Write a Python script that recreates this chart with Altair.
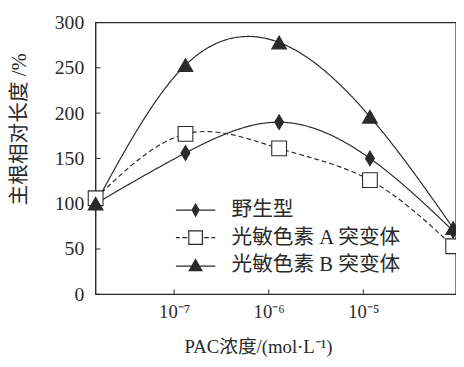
import altair as alt
import pandas as pd

# ---- data ----
series_names = ["野生型", "光敏色素 A 突变体", "光敏色素 B 突变体"]
# horizontal position of each concentration, in log10(mol/L) units (first = control)
x_pos = [-7.83, -6.88, -5.89, -4.93, -4.05]
wild = [100, 156, 190, 150, 70]
phyA = [106, 177, 161, 126, 53]
phyB = [100, 253, 278, 196, 73]

x_ticks = [-7, -6, -5]
x_tick_labels = ["10⁻⁷", "10⁻⁶", "10⁻⁵"]
y_ticks = [0, 50, 100, 150, 200, 250, 300]

x_title = "PAC浓度/(mol·L⁻¹)"
y_title = "主根相对长度 /%"

FONT = "'Liberation Serif', 'Noto Sans CJK SC', serif"
W, H = 366, 276
INK = "#2a2a2a"

rows = []
for name, vals in zip(series_names, [wild, phyA, phyB]):
    for i, (xv, yv) in enumerate(zip(x_pos, vals)):
        rows.append({"series": name, "x": xv, "y": yv, "order": i})
df = pd.DataFrame(rows)

label_expr = " : ".join(
    f"datum.value == {v} ? '{lab}'" for v, lab in zip(x_ticks, x_tick_labels)
) + " : ''"

x_enc = alt.X(
    "x:Q",
    scale=alt.Scale(domain=[-7.83, -4.02], nice=False, zero=False),
    axis=alt.Axis(
        values=x_ticks, labelExpr=label_expr, tickSize=0, domain=False, grid=False,
        labelPadding=9, labelFontSize=19, labelFont=FONT, labelColor=INK,
        title=x_title, titleFont=FONT, titleFontSize=19, titleFontWeight="normal",
        titleColor=INK, titlePadding=16, titleX=165, titleAlign="center",
    ),
)
y_enc = alt.Y(
    "y:Q",
    scale=alt.Scale(domain=[0, 300], nice=False),
    axis=alt.Axis(
        values=y_ticks, tickSize=0, domain=False, grid=False,
        labelPadding=12, labelFontSize=20, labelFont=FONT, labelColor=INK,
        title=y_title, titleFont=FONT, titleFontSize=21, titleFontWeight="normal",
        titleColor=INK, titlePadding=25, titleY=108, titleAlign="center",
    ),
)

dom = series_names

lines = alt.Chart(df).mark_line(
    interpolate="natural", color=INK, strokeWidth=1.2
).encode(
    x=x_enc,
    y=y_enc,
    detail="series:N",
    order="order:Q",
    strokeDash=alt.StrokeDash(
        "series:N",
        scale=alt.Scale(domain=dom, range=[[1, 0], [5, 3], [1, 0]]),
        legend=None,
    ),
)

diamond_path = "M0,-1L0.6,0L0,1L-0.6,0Z"
points = alt.Chart(df).mark_point(
    filled=True, stroke=INK, strokeWidth=1.1, size=225, opacity=1
).encode(
    x="x:Q",
    y="y:Q",
    shape=alt.Shape(
        "series:N",
        scale=alt.Scale(domain=dom, range=[diamond_path, "square", "triangle-up"]),
        legend=None,
    ),
    fill=alt.Fill(
        "series:N",
        scale=alt.Scale(domain=dom, range=[INK, "white", INK]),
        legend=None,
    ),
)


# legend symbols: line + marker drawn as filled custom symbol paths
def bar(a, b, yc=0.0, t=0.06):
    return f"M{a},{yc - t}L{b},{yc - t}L{b},{yc + t}L{a},{yc + t}Z"


leg_wild = bar(-2, 2) + "M0,-0.75L0.42,0L0,0.75L-0.42,0Z"
leg_a = (bar(-2, -1.6) + bar(-1.35, -0.85) + bar(0.85, 1.35) + bar(1.6, 2)
         + "M-0.75,-0.75L0.75,-0.75L0.75,0.75L-0.75,0.75Z"
         + "M-0.63,-0.63L-0.63,0.63L0.63,0.63L0.63,-0.63Z")
leg_b = bar(-2, 2, 0.1) + "M0,-0.7L0.75,0.6L-0.75,0.6Z"

legend_layer = alt.Chart(df).mark_point(
    filled=True, color=INK, opacity=0
).encode(
    x="x:Q",
    y="y:Q",
    shape=alt.Shape(
        "series:N",
        scale=alt.Scale(domain=dom, range=[leg_wild, leg_a, leg_b]),
        legend=alt.Legend(
            title=None, orient="none", legendX=91, legendY=180,
            symbolSize=400, symbolOpacity=1, symbolFillColor=INK,
            symbolStrokeWidth=0, labelOffset=26, rowPadding=6,
            labelFont=FONT, labelFontSize=21, labelColor=INK, labelLimit=400,
        ),
    ),
)

ytick_df = pd.DataFrame({"v": y_ticks})
xtick_df = pd.DataFrame({"v": x_ticks})
yticks = alt.Chart(ytick_df).mark_rule(color=INK, strokeWidth=1).encode(
    y="v:Q", x=alt.value(0), x2=alt.value(5)
)
xticks = alt.Chart(xtick_df).mark_rule(color=INK, strokeWidth=1).encode(
    x="v:Q", y=alt.value(H), y2=alt.value(H - 5)
)

chart = (
    alt.layer(yticks, xticks, lines, points, legend_layer)
    .resolve_scale(shape="independent", fill="independent", strokeDash="independent")
    .properties(
        width=W, height=H,
        autosize=alt.AutoSizeParams(type="none"),
        padding={"left": 89, "top": 12, "right": 0, "bottom": 63},
        background="white",
    )
    .configure_view(stroke=INK, strokeWidth=1.4)
)

chart.save("out.html", embed_options={"renderer": "svg", "actions": False})
